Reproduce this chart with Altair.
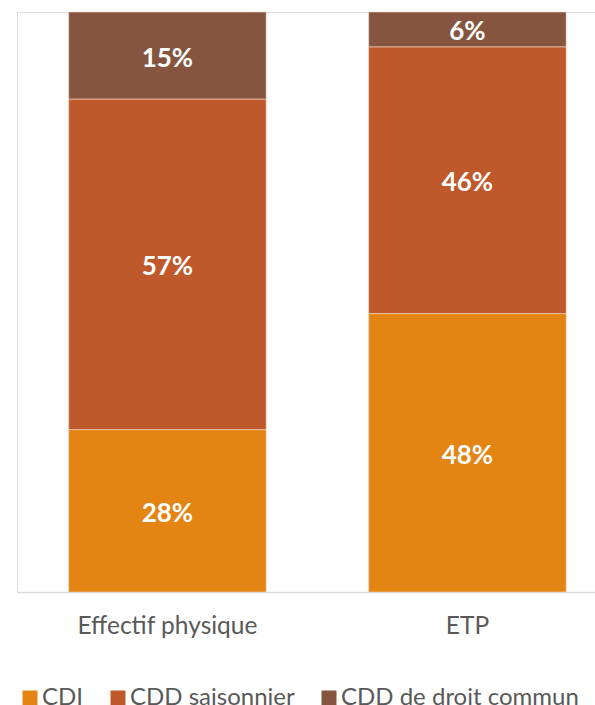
import altair as alt
import pandas as pd

# Répartition des contrats : effectif physique vs ETP
categories = ["Effectif physique", "ETP"]
contracts = ["CDI", "CDD saisonnier", "CDD de droit commun"]
cdi = [28, 48]
cdd_saisonnier = [57, 46]
cdd_droit_commun = [15, 6]
colors = ["#E48413", "#BF582B", "#86553F"]

rows = []
for i, cat in enumerate(categories):
    for k, (name, vals) in enumerate(zip(contracts, [cdi, cdd_saisonnier, cdd_droit_commun])):
        rows.append({"cat": cat, "contrat": name, "ordre": k, "value": vals[i],
                     "label": f"{vals[i]}%"})
df = pd.DataFrame(rows)

FONT = "Lato"
TEXT_GRAY = "#595959"

base = alt.Chart(df).transform_stack(
    stack="value", groupby=["cat"], as_=["v0", "v1"],
    sort=[alt.SortField("ordre", order="ascending")]
).transform_calculate(mid="(datum.v0 + datum.v1) / 2")

x_enc = alt.X(
    "cat:N", sort=categories, title=None,
    scale=alt.Scale(paddingInner=0.3417, paddingOuter=0.1342, align=0.642),
    axis=alt.Axis(labelAngle=0, labelFont=FONT, labelFontSize=24.5, labelColor=TEXT_GRAY,
                  labelPadding=22, labelLimit=400, ticks=False, domainColor="#D9D9D9",
                  domainWidth=1.5, grid=False),
)
y_scale = alt.Scale(domain=[0, 100])

bars = base.mark_bar(stroke="#F3D9C8", strokeWidth=0.6).encode(
    x=x_enc,
    y=alt.Y("v0:Q", scale=y_scale, axis=None),
    y2="v1:Q",
    color=alt.Color(
        "contrat:N", sort=contracts,
        scale=alt.Scale(domain=contracts, range=colors),
        legend=alt.Legend(
            title=None, orient="none", direction="horizontal", legendX=1, legendY=674,
            symbolType="square", symbolSize=225, symbolStrokeWidth=0, symbolOpacity=1,
            labelFont=FONT, labelFontSize=24, labelColor=TEXT_GRAY, labelOffset=0,
            labelLimit=600, columnPadding=22, padding=0,
        ),
    ),
)

labels = base.mark_text(font=FONT, fontSize=26, fontWeight="bold", color="white",
                        dy=3).encode(
    x=alt.X("cat:N", sort=categories),
    y=alt.Y("mid:Q", scale=y_scale),
    text="label:N",
)

chart = (bars + labels).properties(
    width=578, height=580,
    padding={"left": 17, "top": 12, "right": 0, "bottom": 113},
    autosize=alt.AutoSizeParams(type="none"),
).configure_view(stroke=None).configure(background="white")

chart.save("out.html", embed_options={"renderer": "svg", "actions": False})
